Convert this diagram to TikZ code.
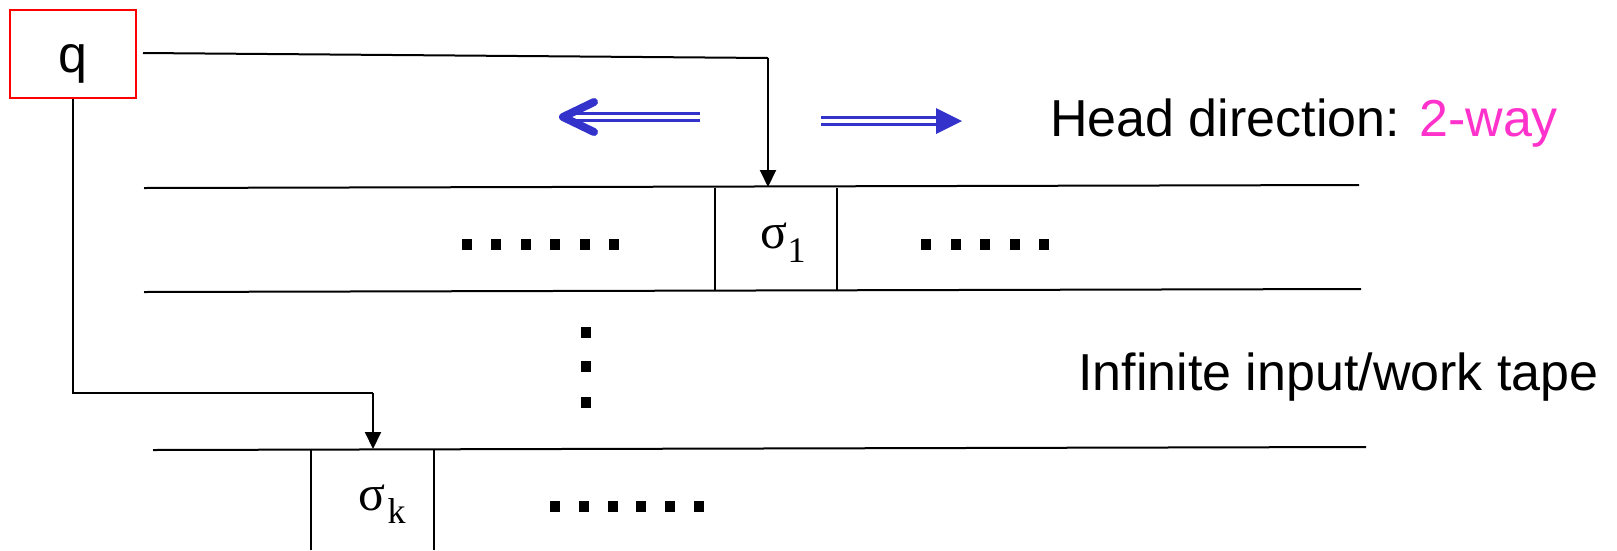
\documentclass[tikz,border=0pt]{standalone}
\usepackage{fontspec}
\setmainfont{Liberation Sans}
\newfontfamily\seriffont{Liberation Serif}
\usetikzlibrary{arrows.meta}
\definecolor{arrowblue}{RGB}{51,51,204}
\definecolor{waypink}{RGB}{255,51,204}
\begin{document}
\begin{tikzpicture}[x=1pt,y=-1pt,
  tape/.style={line width=2pt},
  conn/.style={line width=2pt,-{Triangle[length=17pt,width=16pt]}},
  lbl/.style={font=\fontsize{52}{60}\selectfont, inner sep=0pt, anchor=base west},
  sigma/.style={font=\seriffont\fontsize{50}{56}\selectfont, inner sep=0pt, anchor=base west},
  sub/.style={font=\seriffont\fontsize{36}{40}\selectfont, inner sep=0pt, anchor=base west},
  sq/.style={fill=black, minimum width=10pt, minimum height=11pt, inner sep=0pt},
  cell/.style={minimum width=122pt, minimum height=103pt, inner sep=0pt},
  dbl/.style={arrowblue, line width=3pt, double=white, double distance=4pt},
]
\useasboundingbox (0,0) rectangle (1617,550);

% state box
\node[draw=red, line width=2pt, minimum width=126pt, minimum height=88pt, inner sep=0pt,
      font=\fontsize{52}{60}\selectfont, text height=36pt, text depth=0pt] (q) at (73,54) {q};

% tape 1
\coordinate (t1tl) at (144,188); \coordinate (t1tr) at (1359,185);
\coordinate (t1bl) at (144,292); \coordinate (t1br) at (1361,289);
\draw[tape] (t1tl) -- (t1tr);
\draw[tape] (t1bl) -- (t1br);
\node[cell] (c1) at (776,239.5) {};
\draw[tape] (c1.north west) -- (c1.south west);
\draw[tape] (c1.north east) -- (c1.south east);
\node[sigma] (s1) at (760,248) {σ};
\node[sub] (s1sub) at (s1.base east) [yshift=-14pt] {1};

% tape 2
\coordinate (t2tl) at (153,450); \coordinate (t2tr) at (1366,447);
\draw[tape] (t2tl) -- (t2tr);
\node[cell, minimum height=101pt] (ck) at (372.5,499.5) {};
\draw[tape] (ck.north west) -- (ck.south west);
\draw[tape] (ck.north east) -- (ck.south east);
\node[sigma] (sk) at (358,510) {σ};
\node[sub] (sksub) at (sk.base east) [yshift=-13pt, xshift=2pt] {k};

% dots
\foreach \i in {0,...,5} \node[sq] (dl\i) at (467+29.4*\i,244) {};
\foreach \i in {0,...,4} \node[sq] (dr\i) at (926+29.5*\i,244) {};
\foreach \i in {0,...,5} \node[sq] (db\i) at (555+28.8*\i,506) {};
\foreach \i/\y in {0/332,1/366,2/402} \node[sq] (dv\i) at (586,\y) {};

% connectors from the state
\coordinate (b1) at (768,58);
\coordinate (h1) at (768,187);
\draw[line width=2pt] ([xshift=6pt,yshift=1pt]q.east) -- (b1);
\draw[conn] (b1) -- (h1);
\coordinate (b2) at (73,393);
\coordinate (b3) at (373,393);
\coordinate (h2) at (373,449);
\draw[line width=2pt] (q.south) -- (b2) -- (b3);
\draw[conn] (b3) -- (h2);

% head direction arrows
\coordinate (la1) at (700,117); \coordinate (la2) at (566,117);
\draw[dbl] (la1) -- (la2);
\coordinate (lt) at (563,117);
\draw[arrowblue, line width=8pt, line cap=round, line join=round]
  ([xshift=31pt,yshift=-15pt]lt) -- (lt) -- ([xshift=31pt,yshift=15pt]lt);
\coordinate (ra1) at (821,121); \coordinate (ra2) at (940,121);
\draw[dbl] (ra1) -- (ra2);
\coordinate (rt) at (962,121);
\fill[arrowblue] (rt) -- ([xshift=-26pt,yshift=-13pt]rt) -- ([xshift=-26pt,yshift=13pt]rt) -- cycle;

% labels
\node[lbl] (head) at (1050,136) {Head direction: \textcolor{waypink}{2-way}};
\node[lbl] (tapelbl) at (1078,390) {Infinite input/work tape};
\end{tikzpicture}
\end{document}
